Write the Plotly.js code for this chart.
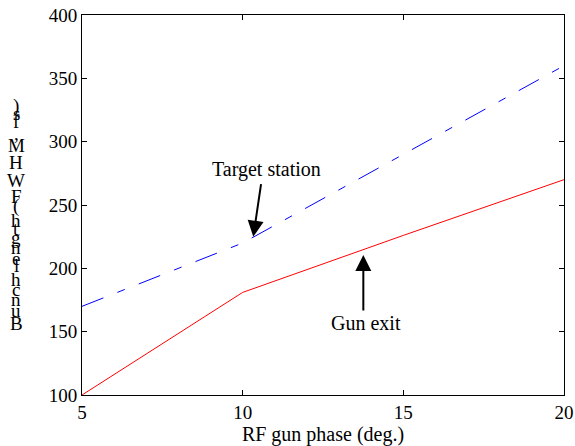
<!DOCTYPE html>
<html>
<head>
<meta charset="utf-8">
<script src="https://cdn.plot.ly/plotly-3.0.1.min.js"></script>
<style>html,body{margin:0;padding:0;background:#fff}#chart{width:575px;height:446px}</style>
</head>
<body>
<div id="chart"></div>
<script>
// Data
const rfPhase = [5, 10, 15, 20];
const gunExit = [100, 181, 226, 270];
const targetStation = [170, 220, 290, 360];
const xTickVals = [5, 10, 15, 20];
const yTickVals = [100, 150, 200, 250, 300, 350, 400];
const xLabel = 'RF gun phase (deg.)';
const yLabel = 'Bunch length (FWHM, fs)';
const labelTarget = 'Target station';
const labelGun = 'Gun exit';

const FONT = '"Liberation Serif", "Times New Roman", serif';
const M = {l: 82, r: 11, t: 15, b: 51};
const W = 575, H = 446;
const plotH = H - M.t - M.b;

// stacked (upright) y-axis label characters, as in the reference
const ctx = document.createElement('canvas').getContext('2d');
ctx.font = '16px "Liberation Serif"';
const chars = yLabel.split('');
let cum = 0; const centers = [];
chars.forEach(ch => { const w = ctx.measureText(ch).width; centers.push(cum + w / 2); cum += w; });
const yBottomPx = 323, yTopPx = 106;
const scale = (yBottomPx - yTopPx) / (centers[centers.length - 1] - centers[0]);
const stackAnn = [];
chars.forEach((ch, i) => {
  if (ch === ' ') return;
  const py = yBottomPx - (centers[i] - centers[0]) * scale;
  stackAnn.push({
    xref: 'paper', yref: 'paper', x: (16 - M.l) / (W - M.l - M.r), y: (H - M.b - py) / plotH,
    text: ch, showarrow: false, xanchor: 'center', yanchor: 'middle',
    font: {family: FONT, size: 19, color: '#000'}
  });
});

const traces = [
  {x: rfPhase, y: gunExit, type: 'scatter', mode: 'lines',
   line: {color: '#ff0000', width: 1}, hoverinfo: 'skip'},
  {x: rfPhase, y: targetStation, type: 'scatter', mode: 'lines',
   line: {color: '#0000ff', width: 1, dash: '23px,15px,8px,15px'}, hoverinfo: 'skip'}
];

const axisCommon = {
  showgrid: false, zeroline: false, showline: true, linecolor: '#000', linewidth: 1,
  mirror: 'ticks', ticks: 'inside', ticklen: 5, tickcolor: '#000', tickwidth: 1,
  tickfont: {family: FONT, size: 19, color: '#000'}
};

const layout = {
  width: W, height: H, margin: M, showlegend: false,
  paper_bgcolor: '#fff', plot_bgcolor: '#fff',
  xaxis: Object.assign({}, axisCommon, {range: [5, 20], tickvals: xTickVals,
    title: {text: xLabel, font: {family: FONT, size: 20, color: '#000'}, standoff: 6}}),
  yaxis: Object.assign({}, axisCommon, {range: [100, 400], tickvals: yTickVals}),
  annotations: stackAnn.concat([
    {x: 10.73, y: 278.4, text: labelTarget, showarrow: false,
     font: {family: FONT, size: 20, color: '#000'}},
    {x: 10.33, y: 225, ax: 8, ay: -54, text: '', showarrow: true,
     arrowhead: 2, arrowsize: 1.6, arrowwidth: 2, arrowcolor: '#000'},
    {x: 13.84, y: 156.9, text: labelGun, showarrow: false,
     font: {family: FONT, size: 20, color: '#000'}},
    {x: 13.755, y: 210.5, ax: 0, ay: 57, text: '', showarrow: true,
     arrowhead: 2, arrowsize: 1.6, arrowwidth: 2, arrowcolor: '#000'}
  ])
};

Plotly.newPlot('chart', traces, layout, {staticPlot: true, displayModeBar: false});
</script>
</body>
</html>
